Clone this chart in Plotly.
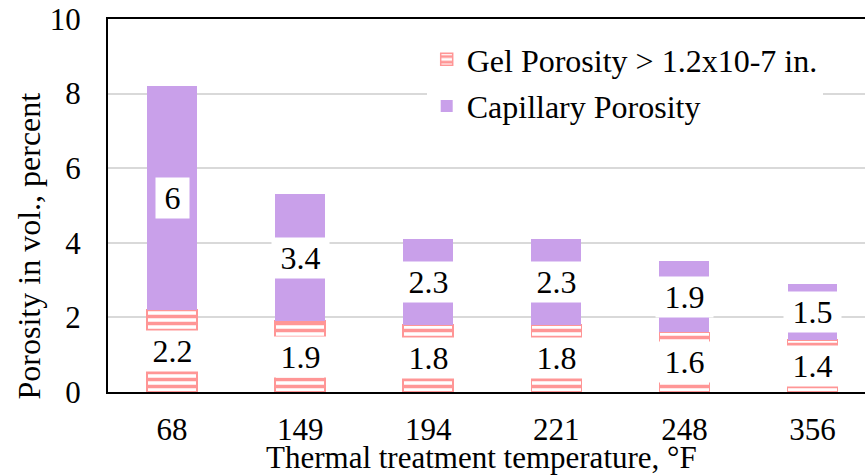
import plotly.graph_objects as go

categories = ["68", "149", "194", "221", "248", "356"]
gel = [2.2, 1.9, 1.8, 1.8, 1.6, 1.4]
capillary = [6, 3.4, 2.3, 2.3, 1.9, 1.5]
gel_name = "Gel Porosity > 1.2x10-7 in."
cap_name = "Capillary Porosity"
y_ticks = [0, 2, 4, 6, 8, 10]

PINK = "#FF9696"
PURPLE = "#C9A0EA"
FONT = "Liberation Serif, Times New Roman, serif"
FS = 31
TS = "\u2009"  # thin space padding inside label boxes

fig = go.Figure()
fig.add_trace(go.Bar(
    x=categories, y=gel, name=gel_name, width=0.39, legendgroup="g",
    marker=dict(color="white", line=dict(color=PINK, width=1.5),
                pattern=dict(shape="-", fgcolor=PINK, bgcolor="white",
                             size=7, solidity=0.5, fillmode="replace")),
))
fig.add_trace(go.Bar(
    x=categories, y=capillary, name=cap_name, width=0.39, legendgroup="c",
    marker=dict(color=PURPLE, line=dict(width=0)),
))

annotations = []
for i, (g, p) in enumerate(zip(gel, capillary)):
    annotations.append(dict(x=i, y=g / 2, text=f"{TS}{g:g}{TS}", showarrow=False,
                            bgcolor="white", borderpad=2,
                            font=dict(family=FONT, size=FS + 1, color="black")))
    annotations.append(dict(x=i, y=g + p / 2, text=f"{TS}{p:g}{TS}", showarrow=False,
                            bgcolor="white", borderpad=2,
                            font=dict(family=FONT, size=FS + 1, color="black")))

annotations.append(dict(xref="paper", yref="paper", x=0.494, y=-0.176,
                        text="Thermal treatment temperature, °F", showarrow=False,
                        xanchor="center", yanchor="middle",
                        font=dict(family=FONT, size=FS, color="black")))
annotations.append(dict(xref="paper", yref="paper", x=-0.104, y=0.391,
                        text="Porosity in vol., percent", showarrow=False,
                        textangle=-90, xanchor="center", yanchor="middle",
                        font=dict(family=FONT, size=FS + 1, color="black")))

fig.update_layout(
    barmode="stack",
    width=865, height=475,
    margin=dict(l=108, r=0, t=19, b=83),
    paper_bgcolor="white", plot_bgcolor="white",
    font=dict(family=FONT, size=FS, color="black"),
    showlegend=True,
    legend=dict(x=0.421, y=0.965, xanchor="left", yanchor="top",
                traceorder="grouped", tracegroupgap=2,
                bgcolor="white", font=dict(family=FONT, size=FS + 1, color="black")),
    annotations=annotations,
    xaxis=dict(type="category", range=[-0.5, 5.41], showline=True, linecolor="black",
               linewidth=2, mirror=True, ticks="", ticklabelstandoff=9,
               showgrid=False, tickfont=dict(family=FONT, size=FS)),
    yaxis=dict(range=[0, 10], tickvals=y_ticks, showline=True, linecolor="black",
               linewidth=2, ticks="", ticklabelstandoff=19, showgrid=True,
               gridcolor="#D9D9D9", gridwidth=1.5, zeroline=False,
               tickfont=dict(family=FONT, size=FS)),
)

fig.write_html(
    "out.html",
    config={"displayModeBar": False},
    post_script="document.body.style.margin='0';document.documentElement.style.overflow='hidden';",
)
